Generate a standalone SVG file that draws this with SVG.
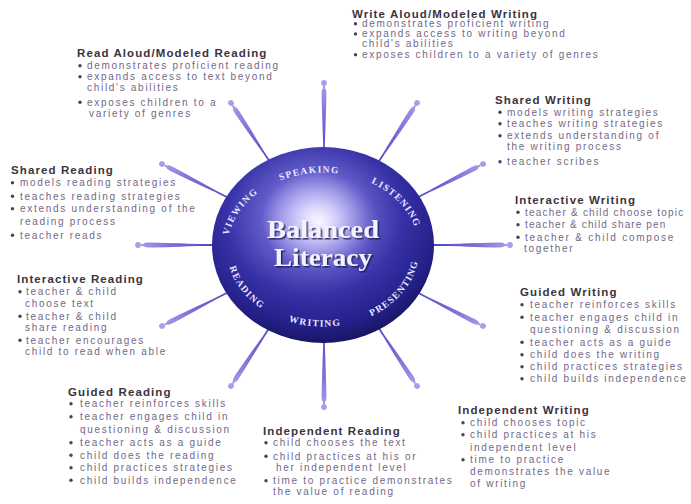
<svg xmlns="http://www.w3.org/2000/svg" xmlns:xlink="http://www.w3.org/1999/xlink" width="691" height="504" viewBox="0 0 691 504">
  <style>
    .ttl { font-family: "Liberation Sans", Arial, sans-serif; font-weight: bold; font-size: 11.5px; letter-spacing: 1.1px; fill: #3b3342; }
    .txt { font-family: "Liberation Sans", Arial, sans-serif; font-size: 10px; letter-spacing: 1.7px; fill: #726888; }
    .dot { fill: #4a4256; }
    .ring { font-family: "Liberation Serif", "Times New Roman", serif; font-weight: bold; font-size: 9.5px; letter-spacing: 1.3px; fill: #ebe9ff; }
    .big { font-family: "Liberation Serif", "Times New Roman", serif; font-weight: bold; font-size: 25px; text-anchor: middle; fill: #f4f2ff; filter: url(#shadow); }
  </style>
  <defs>
    <linearGradient id="spokeGrad" gradientUnits="userSpaceOnUse" x1="-75" y1="0" x2="0" y2="0">
      <stop offset="0" stop-color="#4f47c2"/>
      <stop offset="0.55" stop-color="#7a6fd6"/>
      <stop offset="1" stop-color="#ae9ce8"/>
    </linearGradient>
    <!-- one spoke pointing along +x, ball tip at the origin -->
    <g id="spoke">
      <path d="M-115,-0.9 L-60,-0.9 Q-20,-2.4 -10,-2.4 Q-6,-2.4 -5.5,-1 L-3,-1 L-3,1 L-5.5,1 Q-6,2.4 -10,2.4 Q-20,2.4 -60,0.9 L-115,0.9 Z" fill="url(#spokeGrad)"/>
      <circle cx="0" cy="0" r="2.9" fill="#ae9ce8"/>
    </g>
    <radialGradient id="sphereGrad" cx="0.46" cy="0.36" r="0.66">
      <stop offset="0" stop-color="#dcd8ff"/>
      <stop offset="0.16" stop-color="#a9a2ee"/>
      <stop offset="0.36" stop-color="#625cca"/>
      <stop offset="0.6" stop-color="#3631a6"/>
      <stop offset="0.84" stop-color="#24208a"/>
      <stop offset="1" stop-color="#16135c"/>
    </radialGradient>
    <radialGradient id="glow" cx="0.5" cy="0.5" r="0.5">
      <stop offset="0" stop-color="#ffffff" stop-opacity="0.85"/>
      <stop offset="0.5" stop-color="#e4e0ff" stop-opacity="0.35"/>
      <stop offset="1" stop-color="#c8c2ff" stop-opacity="0"/>
    </radialGradient>
    <filter id="shadow" x="-10%" y="-20%" width="130%" height="150%">
      <feDropShadow dx="1.5" dy="1.5" stdDeviation="0.6" flood-color="#17134a" flood-opacity="0.85"/>
    </filter>
    <path id="ringTop" d="M227,249.5 A96,77 0 0 1 419,249.5"/>
    <path id="ringBot" d="M227,249.5 A96,77 0 0 0 419,249.5"/>
  </defs>

  <rect width="691" height="504" fill="#ffffff"/>

  <!-- connectors: twelve spokes radiating from the sphere -->
  <g id="spokes">
    <use xlink:href="#spoke" href="#spoke" transform="translate(324,83) rotate(-90)"/>
    <use xlink:href="#spoke" href="#spoke" transform="translate(417,103) rotate(-56.8)"/>
    <use xlink:href="#spoke" href="#spoke" transform="translate(483,164) rotate(-27)"/>
    <use xlink:href="#spoke" href="#spoke" transform="translate(510,245) rotate(0)"/>
    <use xlink:href="#spoke" href="#spoke" transform="translate(483,326) rotate(27)"/>
    <use xlink:href="#spoke" href="#spoke" transform="translate(417,386) rotate(56.6)"/>
    <use xlink:href="#spoke" href="#spoke" transform="translate(324,407) rotate(90)"/>
    <use xlink:href="#spoke" href="#spoke" transform="translate(231,386) rotate(123.4)"/>
    <use xlink:href="#spoke" href="#spoke" transform="translate(162,326) rotate(153)"/>
    <use xlink:href="#spoke" href="#spoke" transform="translate(138,245) rotate(180)"/>
    <use xlink:href="#spoke" href="#spoke" transform="translate(162,164) rotate(-153)"/>
    <use xlink:href="#spoke" href="#spoke" transform="translate(231,103) rotate(-123.4)"/>
  </g>

  <!-- central sphere -->
  <g id="node-balanced-literacy">
    <ellipse cx="323" cy="245" rx="111" ry="98" fill="url(#sphereGrad)"/>
    <ellipse cx="320" cy="222" rx="58" ry="50" fill="url(#glow)"/>
    <text class="ring"><textPath xlink:href="#ringTop" href="#ringTop" startOffset="15%" text-anchor="middle">VIEWING</textPath></text>
    <text class="ring"><textPath xlink:href="#ringTop" href="#ringTop" startOffset="45%" text-anchor="middle">SPEAKING</textPath></text>
    <text class="ring"><textPath xlink:href="#ringTop" href="#ringTop" startOffset="80%" text-anchor="middle">LISTENING</textPath></text>
    <text class="ring"><textPath xlink:href="#ringBot" href="#ringBot" startOffset="16.5%" text-anchor="middle">READING</textPath></text>
    <text class="ring"><textPath xlink:href="#ringBot" href="#ringBot" startOffset="47%" text-anchor="middle">WRITING</textPath></text>
    <text class="ring"><textPath xlink:href="#ringBot" href="#ringBot" startOffset="82%" text-anchor="middle">PRESENTING</textPath></text>
    <text class="big" x="323" y="237.5" textLength="112" lengthAdjust="spacingAndGlyphs">Balanced</text>
    <text class="big" x="323" y="265.5" textLength="98" lengthAdjust="spacingAndGlyphs">Literacy</text>
  </g>

  <g id="node-read-aloud">
    <text class="ttl" x="77" y="57">Read Aloud/Modeled Reading</text>
    <circle class="dot" cx="80" cy="65.7" r="1.7"/>
    <text class="txt" x="87" y="69">demonstrates proficient reading</text>
    <circle class="dot" cx="80" cy="76.7" r="1.7"/>
    <text class="txt" x="87" y="80">expands access to text beyond</text>
    <text class="txt" x="87" y="91">child's abilities</text>
    <circle class="dot" cx="80" cy="102.2" r="1.7"/>
    <text class="txt" x="87" y="105.5">exposes children to a</text>
    <text class="txt" x="89" y="116.5">variety of genres</text>
  </g>

  <g id="node-write-aloud">
    <text class="ttl" x="352" y="17.5">Write Aloud/Modeled Writing</text>
    <circle class="dot" cx="355.5" cy="23.7" r="1.7"/>
    <text class="txt" x="362" y="27">demonstrates proficient writing</text>
    <circle class="dot" cx="355.5" cy="33.9" r="1.7"/>
    <text class="txt" x="362" y="37.2">expands access to writing beyond</text>
    <text class="txt" x="362" y="47.2">child's abilities</text>
    <circle class="dot" cx="355.5" cy="54.7" r="1.7"/>
    <text class="txt" x="362" y="58">exposes children to a variety of genres</text>
  </g>

  <g id="node-shared-writing">
    <text class="ttl" x="495" y="104">Shared Writing</text>
    <circle class="dot" cx="500" cy="112.2" r="1.7"/>
    <text class="txt" x="507" y="115.5">models writing strategies</text>
    <circle class="dot" cx="500" cy="123.7" r="1.7"/>
    <text class="txt" x="507" y="127">teaches writing strategies</text>
    <circle class="dot" cx="500" cy="135.7" r="1.7"/>
    <text class="txt" x="507" y="139">extends understanding of</text>
    <text class="txt" x="507" y="149.5">the writing process</text>
    <circle class="dot" cx="500" cy="161.7" r="1.7"/>
    <text class="txt" x="507" y="165">teacher scribes</text>
  </g>

  <g id="node-shared-reading">
    <text class="ttl" x="11" y="174">Shared Reading</text>
    <circle class="dot" cx="12.5" cy="182.7" r="1.7"/>
    <text class="txt" x="20" y="186">models reading strategies</text>
    <circle class="dot" cx="12.5" cy="196.2" r="1.7"/>
    <text class="txt" x="20" y="199.5">teaches reading strategies</text>
    <circle class="dot" cx="12.5" cy="208.7" r="1.7"/>
    <text class="txt" x="20" y="212">extends understanding of the</text>
    <text class="txt" x="20" y="224.5">reading process</text>
    <circle class="dot" cx="12.5" cy="235.2" r="1.7"/>
    <text class="txt" x="20" y="238.5">teacher reads</text>
  </g>

  <g id="node-interactive-writing">
    <text class="ttl" x="515" y="204">Interactive Writing</text>
    <circle class="dot" cx="518" cy="212.2" r="1.7"/>
    <text class="txt" x="525" y="215.5" textLength="160" lengthAdjust="spacing">teacher &amp; child choose topic</text>
    <circle class="dot" cx="518" cy="224.7" r="1.7"/>
    <text class="txt" x="525" y="228" textLength="142" lengthAdjust="spacing">teacher &amp; child share pen</text>
    <circle class="dot" cx="518" cy="237.2" r="1.7"/>
    <text class="txt" x="525" y="240.5" textLength="150" lengthAdjust="spacing">teacher &amp; child compose</text>
    <text class="txt" x="524" y="252">together</text>
  </g>

  <g id="node-interactive-reading">
    <text class="ttl" x="17" y="283">Interactive Reading</text>
    <circle class="dot" cx="20" cy="291.7" r="1.7"/>
    <text class="txt" x="26" y="295">teacher &amp; child</text>
    <text class="txt" x="25" y="306.5">choose text</text>
    <circle class="dot" cx="20" cy="316.2" r="1.7"/>
    <text class="txt" x="26" y="319.5">teacher &amp; child</text>
    <text class="txt" x="25" y="331">share reading</text>
    <circle class="dot" cx="20" cy="340.2" r="1.7"/>
    <text class="txt" x="26" y="343.5">teacher encourages</text>
    <text class="txt" x="25" y="354.5">child to read when able</text>
  </g>

  <g id="node-guided-writing">
    <text class="ttl" x="520" y="296">Guided Writing</text>
    <circle class="dot" cx="522" cy="304.7" r="1.7"/>
    <text class="txt" x="530" y="308">teacher reinforces skills</text>
    <circle class="dot" cx="522" cy="317.2" r="1.7"/>
    <text class="txt" x="530" y="320.5">teacher engages child in</text>
    <text class="txt" x="530" y="333">questioning &amp; discussion</text>
    <circle class="dot" cx="522" cy="342.2" r="1.7"/>
    <text class="txt" x="530" y="345.5">teacher acts as a guide</text>
    <circle class="dot" cx="522" cy="354.7" r="1.7"/>
    <text class="txt" x="530" y="358">child does the writing</text>
    <circle class="dot" cx="522" cy="366.7" r="1.7"/>
    <text class="txt" x="530" y="370">child practices strategies</text>
    <circle class="dot" cx="522" cy="378.7" r="1.7"/>
    <text class="txt" x="530" y="382">child builds independence</text>
  </g>

  <g id="node-guided-reading">
    <text class="ttl" x="68" y="396">Guided Reading</text>
    <circle class="dot" cx="71" cy="403.7" r="1.7"/>
    <text class="txt" x="80" y="407">teacher reinforces skills</text>
    <circle class="dot" cx="71" cy="416.7" r="1.7"/>
    <text class="txt" x="80" y="420">teacher engages child in</text>
    <text class="txt" x="80" y="433">questioning &amp; discussion</text>
    <circle class="dot" cx="71" cy="442.7" r="1.7"/>
    <text class="txt" x="80" y="446">teacher acts as a guide</text>
    <circle class="dot" cx="71" cy="455.2" r="1.7"/>
    <text class="txt" x="80" y="458.5">child does the reading</text>
    <circle class="dot" cx="71" cy="467.7" r="1.7"/>
    <text class="txt" x="80" y="471">child practices strategies</text>
    <circle class="dot" cx="71" cy="480.2" r="1.7"/>
    <text class="txt" x="80" y="483.5">child builds independence</text>
  </g>

  <g id="node-independent-reading">
    <text class="ttl" x="263" y="435">Independent Reading</text>
    <circle class="dot" cx="266" cy="442.7" r="1.7"/>
    <text class="txt" x="273" y="446">child chooses the text</text>
    <circle class="dot" cx="266" cy="456.2" r="1.7"/>
    <text class="txt" x="273" y="459.5">child practices at his or</text>
    <text class="txt" x="276" y="470.5">her independent level</text>
    <circle class="dot" cx="266" cy="480.7" r="1.7"/>
    <text class="txt" x="273" y="484">time to practice demonstrates</text>
    <text class="txt" x="273" y="495">the value of reading</text>
  </g>

  <g id="node-independent-writing">
    <text class="ttl" x="458" y="414">Independent Writing</text>
    <circle class="dot" cx="463" cy="422.7" r="1.7"/>
    <text class="txt" x="470" y="426">child chooses topic</text>
    <circle class="dot" cx="463" cy="434.7" r="1.7"/>
    <text class="txt" x="470" y="438">child practices at his</text>
    <text class="txt" x="470" y="450.5">independent level</text>
    <circle class="dot" cx="463" cy="459.7" r="1.7"/>
    <text class="txt" x="470" y="463">time to practice</text>
    <text class="txt" x="470" y="475">demonstrates the value</text>
    <text class="txt" x="470" y="487">of writing</text>
  </g>
</svg>
